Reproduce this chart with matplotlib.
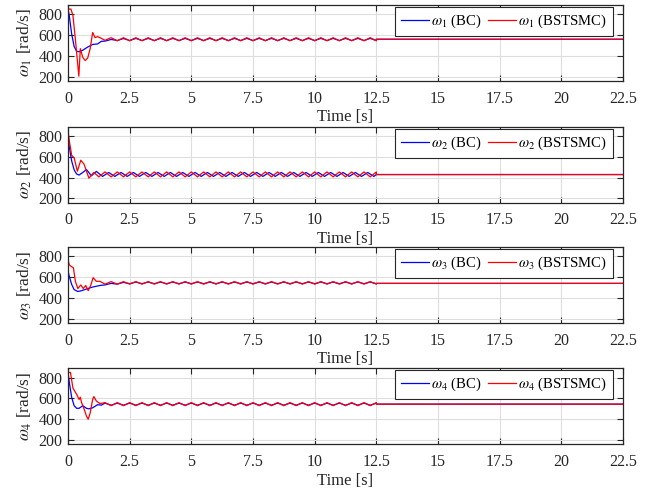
import matplotlib
matplotlib.use("Agg")
import matplotlib.pyplot as plt

plt.rcParams['font.family'] = ['Liberation Serif', 'DejaVu Serif']
plt.rcParams['mathtext.fontset'] = 'stix'

# === DATOS ===
# rejilla común de la parte oscilatoria (s)
t_osc = [1.5, 1.75, 2.0, 2.25, 2.5, 2.75, 3.0, 3.25, 3.5, 3.75, 4.0, 4.25, 4.5, 4.75,
         5.0, 5.25, 5.5, 5.75, 6.0, 6.25, 6.5, 6.75, 7.0, 7.25, 7.5, 7.75, 8.0, 8.25,
         8.5, 8.75, 9.0, 9.25, 9.5, 9.75, 10.0, 10.25, 10.5, 10.75, 11.0, 11.25, 11.5,
         11.75, 12.0, 12.25, 12.5]
t_osc_b = [1.4, 1.65, 1.9, 2.15, 2.4, 2.65, 2.9, 3.15, 3.4, 3.65, 3.9, 4.15, 4.4, 4.65,
           4.9, 5.15, 5.4, 5.65, 5.9, 6.15, 6.4, 6.65, 6.9, 7.15, 7.4, 7.65, 7.9, 8.15,
           8.4, 8.65, 8.9, 9.15, 9.4, 9.65, 9.9, 10.15, 10.4, 10.65, 10.9, 11.15, 11.4,
           11.65, 11.9, 12.15, 12.4]
t_end = [12.5, 22.5]

# omega 1
t1_bc = [0, 0.05, 0.15, 0.25, 0.35, 0.45, 0.6, 0.8, 1.0, 1.2, 1.35]
w1_bc = [850, 790, 610, 490, 445, 440, 455, 485, 510, 515, 540]
w1_bc_osc = [542, 558, 548, 567, 548, 568, 548, 568, 548, 568, 548, 568, 548, 568, 548,
             568, 548, 568, 548, 568, 548, 568, 548, 568, 548, 568, 548, 568, 548, 568,
             548, 568, 548, 568, 548, 568, 548, 568, 548, 568, 548, 568, 548, 568, 548]
t1_sm = [0, 0.12, 0.2, 0.3, 0.44, 0.5, 0.6, 0.7, 0.8, 0.9, 1.0, 1.1, 1.2, 1.3]
w1_sm = [850, 850, 790, 560, 205, 470, 385, 355, 380, 470, 625, 575, 585, 575]
w1_sm_osc = [550, 575, 545, 575, 545, 575, 545, 575, 545, 575, 545, 575, 545, 575, 545,
             575, 545, 575, 545, 575, 545, 575, 545, 575, 545, 575, 545, 575, 545, 575,
             545, 575, 545, 575, 545, 575, 545, 575, 545, 575, 545, 575, 545, 575, 545]
w1_end = 560

# omega 2
t2_bc = [0, 0.05, 0.15, 0.25, 0.35, 0.45, 0.6, 0.75, 0.95, 1.15]
w2_bc = [850, 700, 560, 475, 435, 425, 450, 478, 418, 460]
w2_bc_osc = [412, 450, 412, 450, 412, 450, 412, 450, 412, 450, 412, 450, 412, 450, 412,
             450, 412, 450, 412, 450, 412, 450, 412, 450, 412, 450, 412, 450, 412, 450,
             412, 450, 412, 450, 412, 450, 412, 450, 412, 450, 412, 450, 412, 450, 412]
t2_sm = [0, 0.05, 0.15, 0.25, 0.38, 0.52, 0.65, 0.85, 1.05, 1.25]
w2_sm = [850, 760, 615, 590, 462, 568, 530, 395, 450, 408]
w2_sm_osc = [455, 408, 455, 408, 455, 408, 455, 408, 455, 408, 455, 408, 455, 408, 455,
             408, 455, 408, 455, 408, 455, 408, 455, 408, 455, 408, 455, 408, 455, 408,
             455, 408, 455, 408, 455, 408, 455, 408, 455, 408, 455, 408, 455, 408, 455]
w2_end = 430

# omega 3
t3_bc = [0, 0.05, 0.15, 0.25, 0.4, 0.55, 0.8, 1.0, 1.2, 1.35]
w3_bc = [660, 610, 530, 480, 462, 470, 490, 505, 515, 522]
w3_bc_osc = [525, 540, 533, 550, 537, 553, 537, 553, 537, 553, 537, 553, 537, 553, 537,
             553, 537, 553, 537, 553, 537, 553, 537, 553, 537, 553, 537, 553, 537, 553,
             537, 553, 537, 553, 537, 553, 537, 553, 537, 553, 537, 553, 537, 553, 537]
t3_sm = [0, 0.05, 0.12, 0.22, 0.3, 0.4, 0.52, 0.62, 0.72, 0.82, 0.92, 1.02, 1.15, 1.3]
w3_sm = [770, 720, 705, 690, 560, 490, 525, 490, 520, 470, 520, 595, 560, 560]
w3_sm_osc = [533, 557, 533, 557, 533, 557, 533, 557, 533, 557, 533, 557, 533, 557, 533,
             557, 533, 557, 533, 557, 533, 557, 533, 557, 533, 557, 533, 557, 533, 557,
             533, 557, 533, 557, 533, 557, 533, 557, 533, 557, 533, 557, 533, 557, 533]
w3_end = 540

# omega 4
t4_bc = [0, 0.05, 0.15, 0.25, 0.35, 0.45, 0.6, 0.75, 0.85, 1.0, 1.2, 1.35]
w4_bc = [850, 760, 610, 530, 505, 505, 530, 505, 500, 510, 540, 535]
w4_bc_osc = [555, 535, 555, 535, 555, 535, 555, 535, 555, 535, 555, 535, 555, 535, 555,
             535, 555, 535, 555, 535, 555, 535, 555, 535, 555, 535, 555, 535, 555, 535,
             555, 535, 555, 535, 555, 535, 555, 535, 555, 535, 555, 535, 555, 535, 555]
t4_sm = [0, 0.1, 0.2, 0.35, 0.45, 0.5, 0.55, 0.65, 0.75, 0.82, 0.9, 1.0, 1.05, 1.15, 1.3]
w4_sm = [850, 850, 700, 640, 590, 612, 560, 500, 430, 400, 460, 590, 618, 575, 550]
w4_sm_osc = [560, 530, 560, 530, 560, 530, 560, 530, 560, 530, 560, 530, 560, 530, 560,
             530, 560, 530, 560, 530, 560, 530, 560, 530, 560, 530, 560, 530, 560, 530,
             560, 530, 560, 530, 560, 530, 560, 530, 560, 530, 560, 530, 560, 530, 560]
w4_end = 545

x_ticks = [0, 2.5, 5, 7.5, 10, 12.5, 15, 17.5, 20, 22.5]
x_labels = ['0', '2.5', '5', '7.5', '10', '12.5', '15', '17.5', '20', '22.5']
y_ticks = [200, 400, 600, 800]

series = [
    (t1_bc, w1_bc, t_osc, w1_bc_osc, t1_sm, w1_sm, t_osc, w1_sm_osc, w1_end),
    (t2_bc, w2_bc, t_osc_b, w2_bc_osc, t2_sm, w2_sm, t_osc, w2_sm_osc, w2_end),
    (t3_bc, w3_bc, t_osc, w3_bc_osc, t3_sm, w3_sm, t_osc, w3_sm_osc, w3_end),
    (t4_bc, w4_bc, t_osc, w4_bc_osc, t4_sm, w4_sm, t_osc, w4_sm_osc, w4_end),
]

# === FIGURA ===
fig = plt.figure(figsize=(6.6, 4.93), dpi=100)
bottoms = [0.836, 0.589, 0.345, 0.099]
txt = '#262626'

for i, (tb, wb, tob, wob, ts, ws, tos, wos, wend) in enumerate(series):
    ax = fig.add_axes([0.103, bottoms[i], 0.841, 0.154])
    k = i + 1
    ax.plot(tb + tob + t_end, wb + wob + [wend, wend], color='#0000ff', lw=0.9,
            label=rf'$\omega_{k}$ (BC)')
    ax.plot(ts + tos + t_end, ws + wos + [wend, wend], color='#ff0000', lw=0.9,
            label=rf'$\omega_{k}$ (BSTSMC)')
    ax.set_xlim(0, 22.5)
    ax.set_ylim(160, 890)
    ax.set_xticks(x_ticks)
    ax.set_xticklabels(x_labels)
    ax.set_yticks(y_ticks)
    ax.tick_params(axis='x', pad=7)
    ax.tick_params(axis='y', pad=4)
    ax.tick_params(direction='in', top=True, right=True, labelsize=11.5, length=4,
                   width=0.8, colors=txt, labelcolor=txt)
    ax.grid(True, color='#dedede', lw=0.8)
    for s in ax.spines.values():
        s.set_linewidth(0.9)
        s.set_color(txt)
    ax.set_xlabel('Time [s]', fontsize=12, color=txt, labelpad=2)
    ax.set_ylabel(rf'$\omega_{k}$ [rad/s]', fontsize=12.5, color=txt, labelpad=3)
    leg = ax.legend(loc='upper right', bbox_to_anchor=(0.982, 0.975), ncol=2,
                    fontsize=10.6, fancybox=False, edgecolor=txt, framealpha=1,
                    handlelength=1.9, handletextpad=0.15, columnspacing=0.45,
                    borderpad=0.4, borderaxespad=0.0)
    leg.get_frame().set_linewidth(0.8)

fig.savefig('out.png', dpi=100)
